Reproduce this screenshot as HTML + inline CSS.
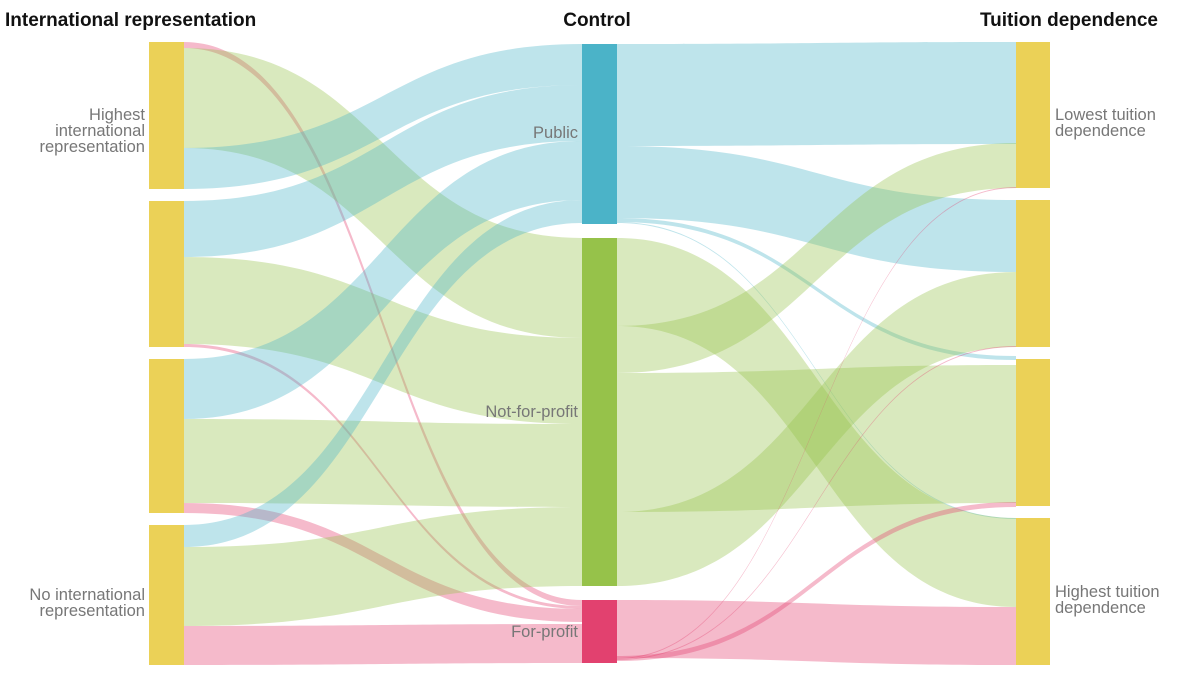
<!DOCTYPE html>
<html><head><meta charset="utf-8"><style>
body{margin:0;background:#fff;width:1200px;height:675px;overflow:hidden}
svg{font-family:"Liberation Sans",sans-serif}
</style></head><body>
<svg id="s" width="1200" height="675" xmlns="http://www.w3.org/2000/svg">
<g id="links"></g>
<g fill="#EBD157">
<rect x="149" y="42" width="35" height="147"/><rect x="149" y="201" width="35" height="146"/>
<rect x="149" y="359" width="35" height="154"/><rect x="149" y="525" width="35" height="140"/>
<rect x="1016" y="42" width="34" height="146"/><rect x="1016" y="200" width="34" height="147"/>
<rect x="1016" y="359" width="34" height="147"/><rect x="1016" y="518" width="34" height="147"/>
</g>
<rect x="582" y="44" width="35" height="180" fill="#4BB3C8"/>
<rect x="582" y="238" width="35" height="348" fill="#96C24A"/>
<rect x="582" y="600" width="35" height="63" fill="#E2416F"/>
<g font-size="16.5" fill="#777">
<text x="145" y="120" text-anchor="end">Highest</text>
<text x="145" y="136" text-anchor="end">international</text>
<text x="145" y="152" text-anchor="end">representation</text>
<text x="145" y="600" text-anchor="end">No international</text>
<text x="145" y="616" text-anchor="end">representation</text>
<text x="578" y="138" text-anchor="end">Public</text>
<text x="578" y="417" text-anchor="end">Not-for-profit</text>
<text x="578" y="637" text-anchor="end">For-profit</text>
<text x="1055" y="120">Lowest tuition</text>
<text x="1055" y="136">dependence</text>
<text x="1055" y="597">Highest tuition</text>
<text x="1055" y="613">dependence</text>
</g>
<g font-size="19" font-weight="bold" fill="#111">
<text x="5" y="26">International representation</text>
<text x="597" y="26" text-anchor="middle">Control</text>
<text x="1158" y="26" text-anchor="end">Tuition dependence</text>
</g>
</svg>
<script>
var B='#4BB3C8',G='#96C24A',P='#E2416F';
var L=[
[184,42,48,582,600,606,P],[184,48,148,582,238,338,G],[184,148,189,582,44,85,B],
[184,201,257,582,85,141,B],[184,257,344,582,338,424,G],[184,344,347,582,606,609,P],
[184,359,419,582,141,200,B],[184,419,503,582,424,507,G],[184,503,513,582,609,622,P],
[184,525,547,582,200,223,B],[184,547,626,582,507,586,G],[184,626,665,582,624,663,P],
[617,44,146,1016,42,144,B],[617,146,218,1016,200,272,B],[617,218,222,1016,356,360,B],[617,222,223,1016,518,519,B],
[617,238,326,1016,518,607,G],[617,326,373,1016,143,188,G],[617,373,512,1016,365,503,G],[617,512,586,1016,272,347,G],
[617,600,658,1016,607,665,P],[617,658,659,1016,187,188,P],[617,659,660,1016,346,347,P],[617,656,661,1016,502,507,P]
];
var g=document.getElementById('links'),h='';
L.forEach(function(l){var x0=l[0],x1=l[3],m=(x0+x1)/2;
h+='<path d="M'+x0+','+l[1]+'C'+m+','+l[1]+' '+m+','+l[4]+' '+x1+','+l[4]+'L'+x1+','+l[5]+'C'+m+','+l[5]+' '+m+','+l[2]+' '+x0+','+l[2]+'Z" fill="'+l[6]+'" fill-opacity="0.36"/>';});
g.innerHTML=h;
</script>
</body></html>
